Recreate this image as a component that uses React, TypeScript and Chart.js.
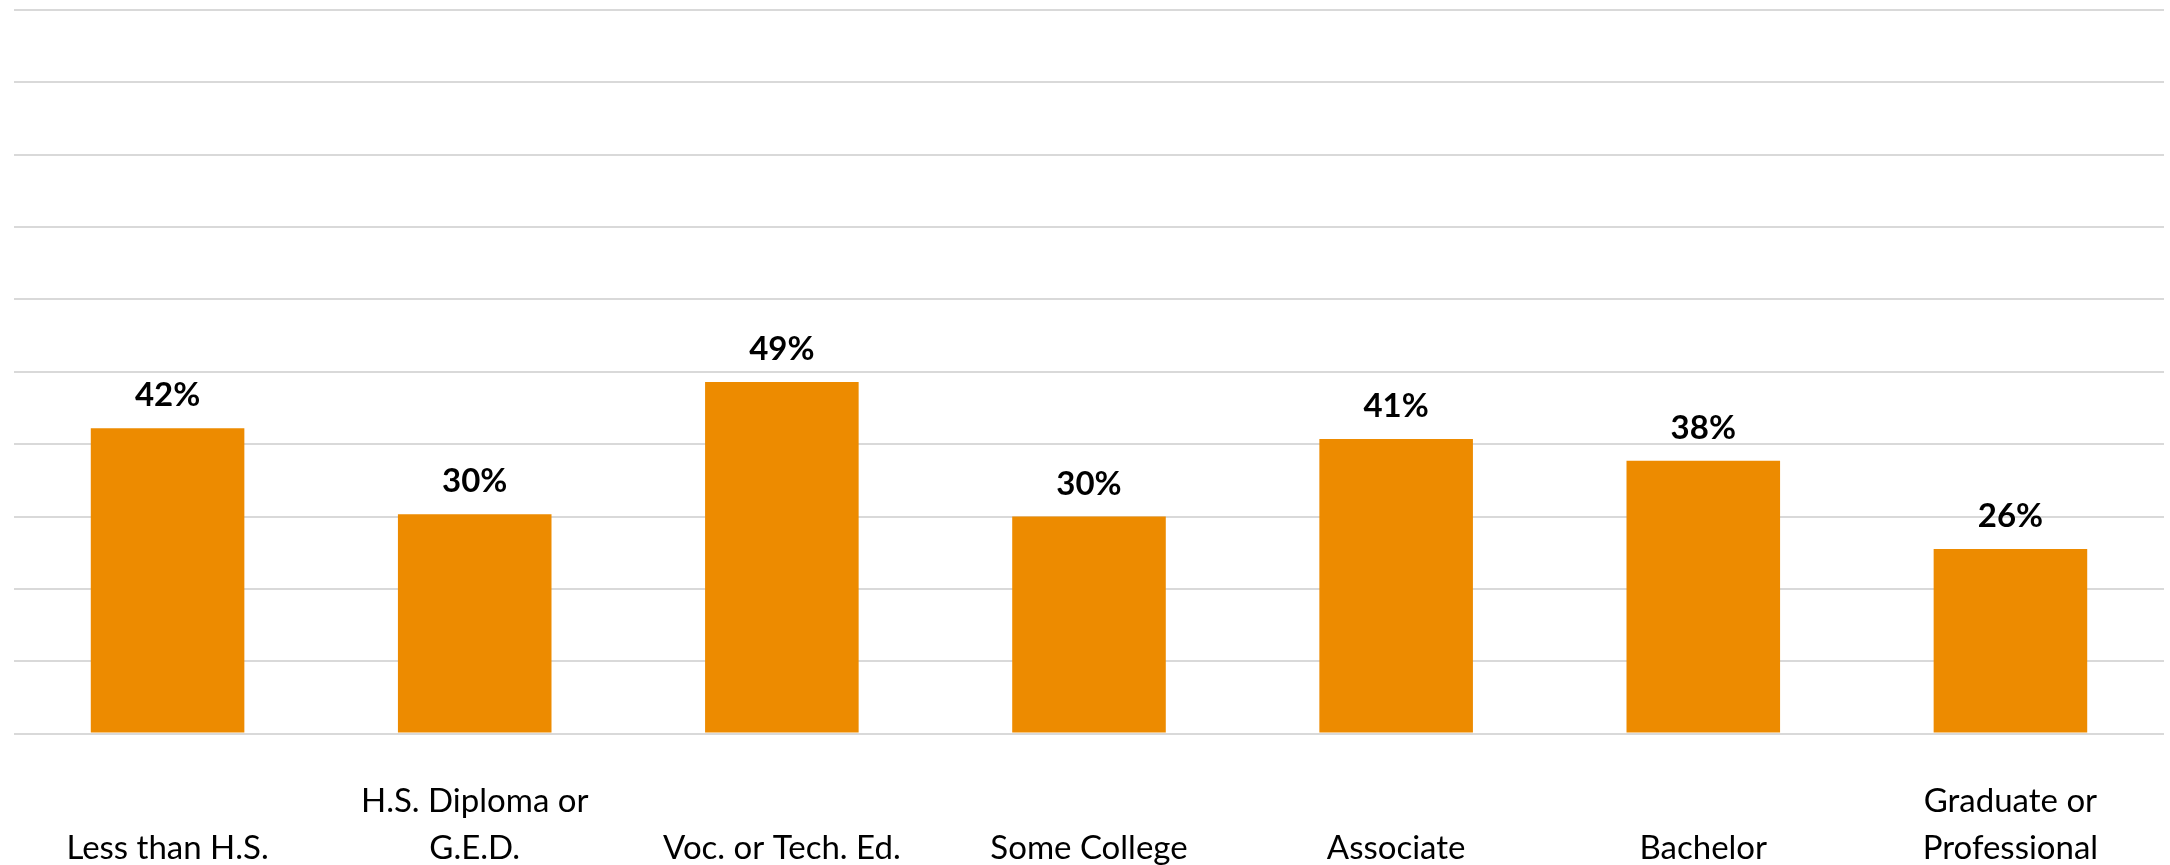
import React, { useEffect, useRef } from "react";
import { Chart, registerables } from "chart.js";

Chart.register(...registerables);

const categories: string[][] = [
  ["", "Less than H.S."],
  ["H.S. Diploma or", "G.E.D."],
  ["", "Voc. or Tech. Ed."],
  ["", "Some College"],
  ["", "Associate"],
  ["", "Bachelor"],
  ["Graduate or", "Professional"],
];

const values: number[] = [42.2, 30.3, 48.6, 30.0, 40.7, 37.7, 25.5];
const valueLabels: string[] = ["42%", "30%", "49%", "30%", "41%", "38%", "26%"];

const yMin = 0;
const yMax = 100;
const yStep = 10;

const FONT = "Lato, 'Open Sans', 'Liberation Sans', sans-serif";

const labelPlugin = {
  id: "valueLabels",
  afterDatasetsDraw(chart: any) {
    const ctx = chart.ctx;
    const meta = chart.getDatasetMeta(0);
    ctx.save();
    ctx.fillStyle = "#000000";
    ctx.font = `bold 33px ${FONT}`;
    ctx.textAlign = "center";
    ctx.textBaseline = "alphabetic";
    meta.data.forEach((bar: any, i: number) => {
      ctx.fillText(valueLabels[i], bar.x, bar.y - 22);
    });
    ctx.restore();
  },
};

export default function App() {
  const canvasRef = useRef<HTMLCanvasElement | null>(null);

  useEffect(() => {
    if (!canvasRef.current) return;
    const chart = new Chart(canvasRef.current, {
      type: "bar",
      data: {
        labels: categories,
        datasets: [
          {
            data: values,
            backgroundColor: "#ED8B00",
            borderWidth: 0,
            barPercentage: 0.5,
            categoryPercentage: 1.0,
          },
        ],
      },
      options: {
        animation: false,
        responsive: true,
        maintainAspectRatio: false,
        layout: { padding: { left: 14, right: 6, top: 10, bottom: 0 } },
        plugins: {
          legend: { display: false },
          tooltip: { enabled: false },
        },
        scales: {
          x: {
            grid: { display: false, drawTicks: false },
            border: { display: false },
            ticks: {
              color: "#000000",
              font: { family: FONT, size: 33, lineHeight: 1.4 },
              padding: 45,
              maxRotation: 0,
              autoSkip: false,
            },
          },
          y: {
            min: yMin,
            max: yMax,
            ticks: { display: false, stepSize: yStep },
            grid: { color: "#d9d9d9", lineWidth: 2, drawTicks: false },
            border: { display: false },
          },
        },
      },
      plugins: [labelPlugin],
    });
    return () => chart.destroy();
  }, []);

  return (
    <div style={{ position: "fixed", left: 0, top: 0, width: 2170, height: 916, background: "#ffffff" }}>
      <canvas ref={canvasRef} />
    </div>
  );
}
